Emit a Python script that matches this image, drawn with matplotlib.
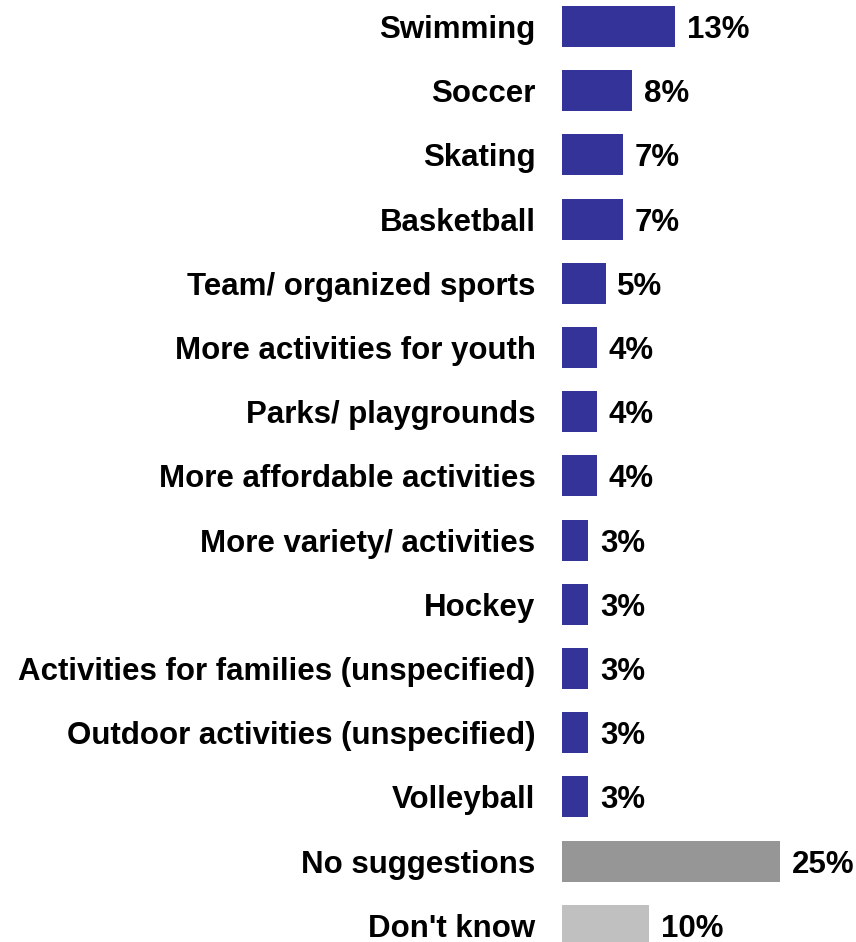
import matplotlib.pyplot as plt

plt.rcParams['font.family'] = ['Liberation Sans', 'DejaVu Sans']

categories = ['Swimming', 'Soccer', 'Skating', 'Basketball', 'Team/ organized sports',
              'More activities for youth', 'Parks/ playgrounds', 'More affordable activities',
              'More variety/ activities', 'Hockey', 'Activities for families (unspecified)',
              'Outdoor activities (unspecified)', 'Volleyball', 'No suggestions', "Don't know"]
values = [13, 8, 7, 7, 5, 4, 4, 4, 3, 3, 3, 3, 3, 25, 10]
colors = ['#333399'] * 13 + ['#969696', '#c0c0c0']

fig = plt.figure(figsize=(8.56, 9.42), dpi=100)
ax = fig.add_axes([562 / 856, 0, 1 - 562 / 856, 1])

pos = list(range(len(categories)))
ax.barh(pos, values, height=0.64, color=colors)
for p, v in zip(pos, values):
    ax.text(v + 1.35, p, f'{v}%', va='center_baseline', ha='left',
            fontsize=22.5, fontweight='bold')

ax.set_xlim(0, (856 - 562) / 8.72)
ax.set_ylim((942 - 26.5) / 64.2, -26.5 / 64.2)
ax.set_yticks(pos)
ax.set_yticklabels(categories, fontsize=22.5, fontweight='bold')
ax.tick_params(axis='y', length=0, pad=19)
ax.set_xticks([])
for s in ax.spines.values():
    s.set_visible(False)

fig.savefig('out.png', dpi=100)
